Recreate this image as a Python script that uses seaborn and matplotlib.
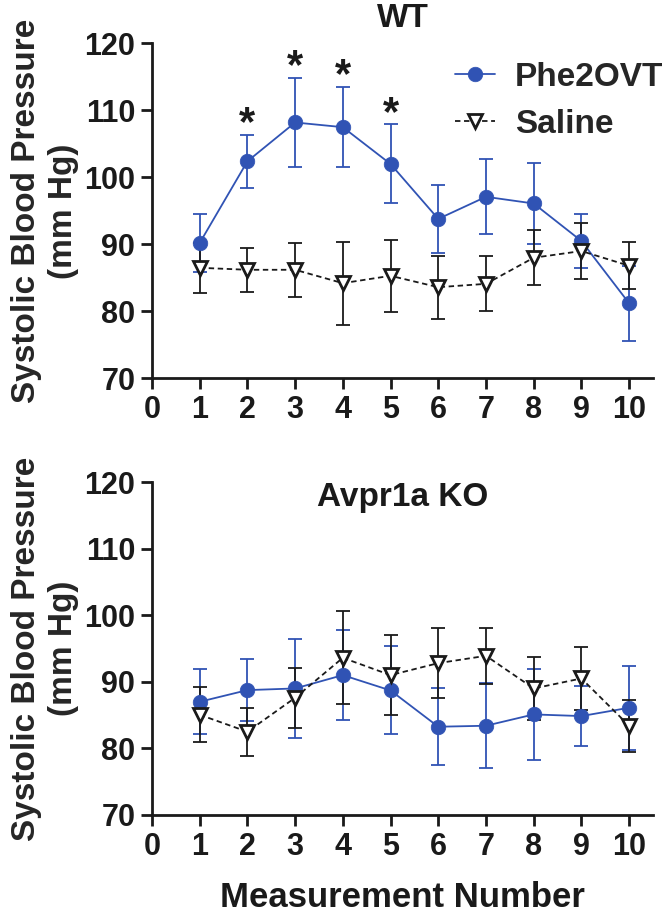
import numpy as np
import pandas as pd
import matplotlib
matplotlib.use("Agg")
import matplotlib.pyplot as plt
import seaborn as sns

measurements = [1, 2, 3, 4, 5, 6, 7, 8, 9, 10]
wt_phe_mean = [90.2, 102.4, 108.2, 107.5, 102.0, 93.8, 97.1, 96.1, 90.5, 81.2]
wt_phe_sem = [4.3, 4.0, 6.6, 6.0, 5.9, 5.05, 5.6, 6.0, 4.0, 5.6]
wt_sal_mean = [86.5, 86.2, 86.2, 84.2, 85.3, 83.6, 84.1, 88.0, 89.0, 86.8]
wt_sal_sem = [3.7, 3.3, 4.0, 6.2, 5.4, 4.7, 4.1, 4.1, 4.2, 3.5]
ko_phe_mean = [87.0, 88.75, 89.0, 91.0, 88.7, 83.25, 83.4, 85.1, 84.85, 86.1]
ko_phe_sem = [4.85, 4.65, 7.4, 6.75, 6.6, 5.8, 6.35, 6.8, 4.5, 6.3]
ko_sal_mean = [85.05, 82.5, 87.6, 93.6, 91.0, 92.8, 93.9, 89.0, 90.5, 83.4]
ko_sal_sem = [4.15, 3.6, 4.5, 7.0, 6.0, 5.3, 4.25, 4.7, 4.75, 3.9]
star_points = [2, 3, 4, 5]
panel_titles = ["WT", "Avpr1a KO"]
series_names = ["Phe2OVT", "Saline"]
x_ticks = [0, 1, 2, 3, 4, 5, 6, 7, 8, 9, 10]
y_ticks = [70, 80, 90, 100, 110, 120]

sns.set_style("ticks")
plt.rcParams["font.family"] = ["Liberation Sans", "DejaVu Sans"]
plt.rcParams["font.weight"] = "bold"

BLUE = "#3053b4"
BLACK = "#1a1a1a"
FS = 22
FS_BIG = 24

fig = plt.figure(figsize=(6.68, 9.19), dpi=100)
ax1 = fig.add_axes([0.2275, 0.5884, 0.75, 0.3643])
ax2 = fig.add_axes([0.2275, 0.1132, 0.75, 0.3623])


def draw_panel(ax, phe_mean, phe_sem, sal_mean, sal_sem):
    ax.errorbar(measurements, phe_mean, yerr=phe_sem, fmt="none", ecolor=BLUE,
                elinewidth=1.3, capsize=5, capthick=1.3, zorder=2)
    ax.errorbar(measurements, sal_mean, yerr=sal_sem, fmt="none", ecolor=BLACK,
                elinewidth=1.3, capsize=5, capthick=1.3, zorder=2)
    sns.lineplot(x=measurements, y=phe_mean, ax=ax, color=BLUE, marker="o",
                 markersize=10.5, markeredgecolor=BLUE, markeredgewidth=0.5,
                 linewidth=1.3, label=series_names[0], zorder=3)
    sns.lineplot(x=measurements, y=sal_mean, ax=ax, color=BLACK, marker="v",
                 markersize=10.5, markerfacecolor="white", markeredgecolor=BLACK,
                 markeredgewidth=2.0, linewidth=1.3, linestyle=(0, (3, 2)),
                 label=series_names[1], zorder=4)
    ax.set_xlim(0, 10.5)
    ax.set_ylim(70, 120)
    ax.set_xticks(x_ticks)
    ax.set_yticks(y_ticks)
    ax.set_xlabel("")
    ax.set_ylabel("Systolic Blood Pressure\n(mm Hg)", fontsize=FS_BIG, fontweight="bold",
                  labelpad=4, linespacing=1.25)
    for s in ["top", "right"]:
        ax.spines[s].set_visible(False)
    for s in ["left", "bottom"]:
        ax.spines[s].set_linewidth(2.0)
        ax.spines[s].set_color(BLACK)
    ax.tick_params(axis="both", length=8, width=2.0, labelsize=FS, color=BLACK,
                   labelcolor=BLACK, pad=4)
    for lab in ax.get_xticklabels() + ax.get_yticklabels():
        lab.set_fontweight("bold")
    leg = ax.get_legend()
    if leg is not None:
        leg.remove()


draw_panel(ax1, wt_phe_mean, wt_phe_sem, wt_sal_mean, wt_sal_sem)
draw_panel(ax2, ko_phe_mean, ko_phe_sem, ko_sal_mean, ko_sal_sem)

ax1.set_title(panel_titles[0], fontsize=FS_BIG, fontweight="bold", pad=12, color=BLACK)
ax2.text(0.5, 117.7, panel_titles[1], transform=ax2.get_yaxis_transform(),
         ha="center", va="center", fontsize=FS_BIG, fontweight="bold", color=BLACK)

for m in star_points:
    i = measurements.index(m)
    ax1.text(m, wt_phe_mean[i] + wt_phe_sem[i] + 1.6, "*", ha="center", va="center",
             fontsize=30, fontweight="bold", color=BLACK)

handles, labels = ax1.get_legend_handles_labels()
fig.legend(handles, labels, loc="upper left", bbox_to_anchor=(455 / 668, 1 - 62 / 919),
           frameon=False, prop={"weight": "bold", "size": FS_BIG},
           handlelength=1.2, handletextpad=0.6, labelspacing=0.47,
           borderpad=0, borderaxespad=0)

ax2.set_xlabel("Measurement Number", fontsize=FS_BIG + 1, fontweight="bold", labelpad=14,
               color=BLACK)

fig.savefig("out.png", dpi=100)
